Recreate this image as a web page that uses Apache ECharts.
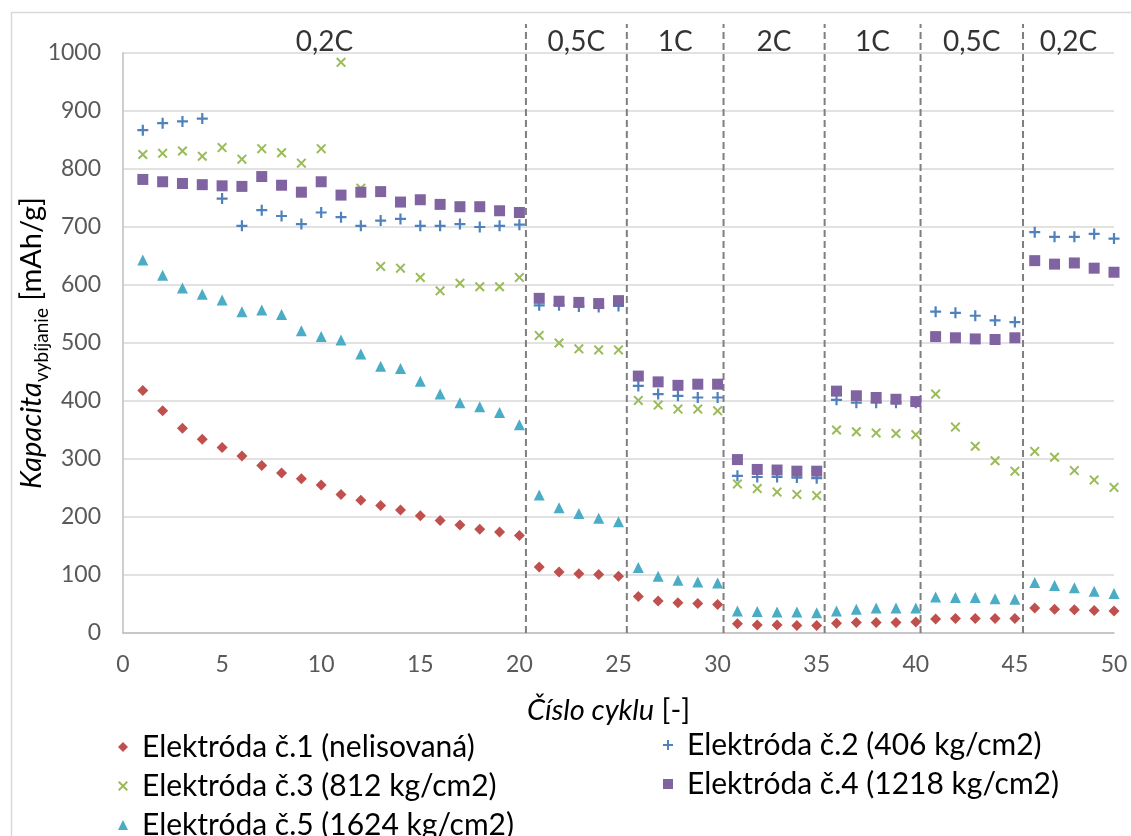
<!DOCTYPE html>
<html><head><meta charset="utf-8">
<script src="https://cdn.jsdelivr.net/npm/echarts@6/dist/echarts.min.js"></script>
<style>html,body{margin:0;padding:0;background:#fff}#c{width:1131px;height:836px}</style>
</head><body><div id="c"></div>
<script>
const cycles = [1,2,3,4,5,6,7,8,9,10,11,12,13,14,15,16,17,18,19,20,21,22,23,24,25,26,27,28,29,30,31,32,33,34,35,36,37,38,39,40,41,42,43,44,45,46,47,48,49,50];
const seriesNames = ['Elektróda č.1 (nelisovaná)','Elektróda č.2 (406 kg/cm2)','Elektróda č.3 (812 kg/cm2)','Elektróda č.4 (1218 kg/cm2)','Elektróda č.5 (1624 kg/cm2)'];
const e1 = [418,383,353,334,320,305,289,276,266,255,239,229,220,212,202,194,186,179,174,168, 114,105,102,101,98, 63,55,52,51,49, 16,14,14,13,13, 17,18,18,18,19, 24,25,25,25,25, 43,41,40,39,38];
const e2 = [867,879,882,887,749,702,729,719,705,725,717,702,711,714,702,702,705,700,702,704, 565,565,563,562,564, 426,412,409,406,406, 271,269,269,268,267, 402,397,397,397,397, 554,552,547,539,536, 691,683,683,688,680];
const e3 = [825,827,831,822,837,817,835,828,810,835,984,767,632,629,613,590,603,597,597,613, 513,500,490,488,488, 401,393,386,386,383, 257,249,243,239,237, 350,347,345,344,342, 412,355,322,297,279, 313,303,280,264,251];
const e4 = [782,778,775,773,771,770,787,772,760,778,755,760,761,743,747,739,735,735,728,725, 577,572,570,568,573, 443,433,427,429,429, 299,282,281,279,279, 417,409,406,403,399, 511,509,507,506,509, 642,636,638,629,622];
const e5 = [643,617,595,584,574,554,557,549,521,511,505,481,460,456,434,412,397,390,380,359, 238,216,206,198,192, 113,98,91,88,86, 38,37,36,36,35, 38,41,43,43,43, 62,61,61,59,58, 87,82,78,72,68];
const rateBoundaries = [20.33,25.42,30.3,35.4,40.24,45.41];
const rateLabels = ['0,2C','0,5C','1C','2C','1C','0,5C','0,2C'];
const xTicks = {min:0, max:50, interval:5};
const yTicks = {min:0, max:1000, interval:100};
const dashTop = 1050;

const FONT = 'Lato';
const colors = ['#C0504D','#4F81BD','#9BBB59','#8064A2','#4BACC6'];
const PLUS = 'path://M4,0H6V4H10V6H6V10H4V6H0V4H4Z';
const CROSS = 'path://M1.4,0L5,3.6L8.6,0L10,1.4L6.4,5L10,8.6L8.6,10L5,6.4L1.4,10L0,8.6L3.6,5L0,1.4Z';
const symbols = ['diamond', PLUS, CROSS, 'rect', 'triangle'];
const sizes = [11, 11, 10, 11, 11];
const vals = [e1,e2,e3,e4,e5];

const edges = [xTicks.min].concat(rateBoundaries, [xTicks.max]);
const labelData = rateLabels.map((t,i)=>({value:[(edges[i]+edges[i+1])/2, yTicks.max], name:t}));

const series = vals.map((v,i)=>({
  type:'scatter', name: seriesNames[i], symbol: symbols[i], symbolSize: sizes[i],
  itemStyle:{color: colors[i], opacity:1}, z: 3,
  data: cycles.map((c,j)=>[c, v[j]])
}));
series.push({
  type:'custom', silent:true, clip:false, z:1,
  data: rateBoundaries.map(b=>[b, dashTop]),
  renderItem:(params, api)=>{
    const p0 = api.coord([api.value(0), 0]);
    const p1 = api.coord([api.value(0), api.value(1)]);
    return {type:'line', shape:{x1:p0[0], y1:p0[1], x2:p1[0], y2:p1[1]},
      style:{stroke:'#7f7f7f', lineWidth:2, lineDash:[7,4]}};
  }
});
series.push({
  type:'scatter', silent:true, clip:false, symbolSize:0, z:4,
  data: labelData,
  label:{show:true, position:'inside', offset:[0,-11], formatter: p=>p.name,
    fontFamily:FONT, fontSize:28, color:'#000'}
});

const legendText = {fontFamily:FONT, fontSize:30, color:'#000', lineHeight:22, padding:[0,0,0,9]};
const legendCommon = {orient:'vertical', itemWidth:10, itemHeight:10, itemGap:9, padding:0, height:200, textStyle:legendText, selectedMode:false};
const chart = echarts.init(document.getElementById('c'), null, {renderer:'canvas'});
chart.setOption({
  backgroundColor:'#fff',
  animation:false,
  graphic:[{type:'rect', left:9, top:10, shape:{width:1200, height:1000}, style:{fill:'none', stroke:'#d9d9d9', lineWidth:1.5}, silent:true}],
  grid:{left:123, right:17, top:53, bottom:203, containLabel:false, outerBoundsMode:'none'},
  xAxis:{type:'value', min:xTicks.min, max:xTicks.max, interval:xTicks.interval,
    name:'{i|Číslo cyklu} [-]', nameLocation:'middle', nameGap:63,
    nameTextStyle:{fontFamily:FONT, fontSize:29, color:'#000', padding:[0,20,0,0], rich:{i:{fontFamily:FONT, fontStyle:'italic', fontSize:29, color:'#000'}}},
    axisLine:{show:true, lineStyle:{color:'#bfbfbf', width:1.5}}, axisTick:{show:false},
    axisLabel:{fontFamily:FONT, fontSize:23, color:'#595959', margin:20},
    splitLine:{show:false}},
  yAxis:{type:'value', min:yTicks.min, max:yTicks.max, interval:yTicks.interval,
    name:'{i|Kapacita}{s|vybíjanie}{n| [mAh/g]}', nameLocation:'middle', nameRotate:90, nameGap:72, nameMoveOverlap:false,
    nameTextStyle:{color:'#000', rich:{
      i:{fontFamily:FONT, fontStyle:'italic', fontSize:29, lineHeight:38, verticalAlign:'middle', color:'#000'},
      s:{fontFamily:FONT, fontSize:19, lineHeight:19, verticalAlign:'bottom', color:'#000'},
      n:{fontFamily:FONT, fontSize:29, lineHeight:38, verticalAlign:'middle', color:'#000'}}},
    axisLine:{show:true, lineStyle:{color:'#bfbfbf', width:1.5}}, axisTick:{show:false},
    axisLabel:{fontFamily:FONT, fontSize:23, color:'#595959', margin:22, formatter: v=>String(v)},
    splitLine:{show:true, lineStyle:{color:'#d9d9d9', width:1.5}}},
  legend:[
    Object.assign({data:[seriesNames[0],seriesNames[2],seriesNames[4]], left:118, top:732}, legendCommon),
    Object.assign({data:[seriesNames[1],seriesNames[3]], left:663, top:730}, legendCommon)
  ],
  series: series
});
</script></body></html>
